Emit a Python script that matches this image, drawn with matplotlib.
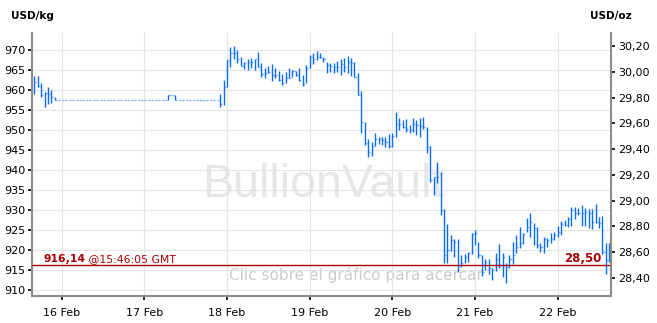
import pandas as pd
import matplotlib
matplotlib.use("Agg")
import matplotlib.pyplot as plt
import matplotlib.dates as mdates

# hourly bars in USD/kg, first bar at 15 Feb 16:00 GMT
start = "2013-02-15 16:00"

highs = [
    963.5, 963.5, 961.8, 959.6, 960.7, 960.0, 958.2,
    957.5, 957.5, 957.5, 957.5, 957.5, 957.5, 957.5, 957.5,
    957.5, 957.5, 957.5, 957.5, 957.5, 957.5, 957.5, 957.5,
    957.5, 957.5, 957.5, 957.5, 957.5, 957.5, 957.5, 957.5,
    957.5, 957.5, 957.5, 957.5, 957.5, 957.5, 957.5, 957.5,
    958.7, 958.7, 958.7,
    957.5, 957.5, 957.5, 957.5, 957.5, 957.5, 957.5, 957.5, 957.5, 957.5, 957.5, 957.5,
    959.0, 962.5, 967.5, 970.7, 971.0, 970.0, 968.3, 967.1, 967.8, 968.1,
    967.8, 969.4, 966.7, 965.6, 966.1, 966.4, 965.6, 964.8, 963.9, 964.6,
    965.4, 965.0, 964.8, 965.4, 963.8, 966.3, 968.8, 969.2, 969.7,
    969.2, 968.2, 967.1, 966.8, 966.8, 967.3, 967.7, 967.9, 968.5, 967.9,
    967.1, 964.2, 959.8, 952.1, 947.7, 947.1, 949.3, 948.2, 948.2, 948.2,
    948.9, 949.2, 954.6, 952.9, 952.5, 952.7, 951.3, 952.9, 952.5, 952.9,
    953.2, 950.7,
    946.0, 938.3, 942.1, 939.6, 930.2, 926.5, 923.8, 922.7, 922.7, 918.8,
    919.0, 919.6, 924.3, 925.0, 922.1, 918.8, 917.7, 917.7, 915.4, 919.2,
    921.5, 919.2, 916.7, 918.8, 922.1, 923.8, 925.8, 924.3, 927.9, 929.3,
    926.8, 925.7, 921.8, 923.3, 922.9, 924.3, 924.6, 926.0, 927.3, 927.5,
    928.3, 930.7, 930.7, 930.4, 931.3, 930.4, 930.2, 930.2, 931.5, 928.3,
    928.5, 921.8, 921.7,
]

lows = [
    959.0, 960.7, 958.3, 955.8, 956.4, 956.7, 957.5,
    957.5, 957.5, 957.5, 957.5, 957.5, 957.5, 957.5, 957.5,
    957.5, 957.5, 957.5, 957.5, 957.5, 957.5, 957.5, 957.5,
    957.5, 957.5, 957.5, 957.5, 957.5, 957.5, 957.5, 957.5,
    957.5, 957.5, 957.5, 957.5, 957.5, 957.5, 957.5, 957.5,
    957.5, 958.7, 957.5,
    957.5, 957.5, 957.5, 957.5, 957.5, 957.5, 957.5, 957.5, 957.5, 957.5, 957.5, 957.5,
    955.8, 956.3, 960.8, 965.8, 967.8, 966.7, 966.1, 965.3, 965.0, 965.4,
    965.0, 965.8, 963.3, 963.1, 964.2, 962.3, 962.9, 962.3, 961.3, 961.7,
    962.9, 963.3, 963.6, 962.3, 961.1, 961.7, 965.6, 966.6, 967.6,
    967.9, 967.1, 964.2, 964.6, 964.2, 964.6, 963.8, 964.6, 964.2, 963.5,
    963.3, 958.8, 949.2, 946.3, 943.2, 943.5, 946.0, 946.5, 946.3, 945.7,
    945.4, 945.7, 948.3, 950.0, 950.4, 949.6, 949.2, 949.6, 948.8, 948.3,
    950.2, 944.2,
    937.1, 933.8, 936.7, 928.8, 916.7, 916.7, 919.8, 918.3, 914.6, 915.8,
    916.7, 917.1, 919.0, 921.3, 917.9, 913.5, 915.0, 914.0, 912.5, 914.8,
    915.4, 913.3, 911.7, 915.4, 916.5, 919.2, 920.4, 921.5, 924.6, 923.2,
    921.3, 920.4, 919.6, 919.3, 920.8, 921.8, 922.5, 923.3, 923.8, 926.0,
    925.8, 926.0, 927.7, 928.8, 926.0, 926.0, 925.4, 925.2, 926.8, 925.4,
    919.0, 914.0, 917.1,
]

closes = [
    962.0, 961.0, 958.7, 959.2, 959.0, 958.2, 957.5,
    957.5, 957.5, 957.5, 957.5, 957.5, 957.5, 957.5, 957.5,
    957.5, 957.5, 957.5, 957.5, 957.5, 957.5, 957.5, 957.5,
    957.5, 957.5, 957.5, 957.5, 957.5, 957.5, 957.5, 957.5,
    957.5, 957.5, 957.5, 957.5, 957.5, 957.5, 957.5, 957.5,
    958.7, 958.7, 957.5,
    957.5, 957.5, 957.5, 957.5, 957.5, 957.5, 957.5, 957.5, 957.5, 957.5, 957.5, 957.5,
    956.5, 960.8, 967.5, 969.2, 969.2, 967.8, 966.1, 966.7, 967.1, 967.1,
    967.8, 965.8, 963.9, 964.2, 964.6, 963.8, 963.8, 962.5, 961.7, 962.9,
    963.1, 964.8, 963.8, 962.5, 961.4, 965.4, 968.3, 967.8, 968.3,
    968.2, 967.7, 966.3, 966.0, 965.8, 965.8, 966.5, 965.8, 967.1, 966.8,
    963.3, 958.8, 952.1, 946.7, 944.6, 946.0, 947.7, 947.7, 947.5, 947.1,
    946.0, 948.5, 951.5, 951.5, 950.7, 950.2, 950.0, 951.5, 951.3, 951.0,
    950.7, 945.8,
    937.5, 938.2, 938.2, 930.0, 918.8, 920.0, 922.5, 922.1, 916.3, 916.7,
    918.3, 919.2, 924.0, 924.2, 918.8, 914.6, 917.1, 915.4, 915.0, 917.7,
    916.3, 918.3, 915.8, 917.7, 918.8, 920.8, 921.7, 924.0, 925.8, 927.1,
    925.4, 921.3, 920.8, 922.7, 922.5, 922.7, 923.8, 924.6, 926.5, 926.3,
    927.7, 930.0, 929.3, 929.2, 929.2, 929.6, 929.2, 927.1, 927.1, 926.8,
    919.6, 917.5, 917.3,
]

last_kg = 916.14
last_oz = 28.50
last_time = "@15:46:05 GMT"

day_ticks = ["2013-02-16", "2013-02-17", "2013-02-18", "2013-02-19",
             "2013-02-20", "2013-02-21", "2013-02-22"]
day_labels = ["16 Feb", "17 Feb", "18 Feb", "19 Feb", "20 Feb", "21 Feb", "22 Feb"]
kg_ticks = [910, 915, 920, 925, 930, 935, 940, 945, 950, 955, 960, 965, 970]
oz_ticks = [28.4, 28.6, 28.8, 29.0, 29.2, 29.4, 29.6, 29.8, 30.0, 30.2]

KG_PER_OZ = 32.1507

BAR = "#0a6cff"
TICK = "#7aaeff"
RED = "#a80000"
SPINE = "#8c8c8c"
GRID = "#e4e4e4"

plt.rcParams["font.family"] = "DejaVu Sans"

times = pd.date_range(start, periods=len(highs), freq="h")
t = mdates.date2num(times.to_pydatetime())

fig = plt.figure(figsize=(6.57, 3.23), dpi=100)
ax = fig.add_axes([32 / 657, 27 / 323, 579 / 657, 263 / 323])

ax.vlines(t, lows, highs, color=BAR, lw=1.0, zorder=3)
ax.hlines(closes, t, t + 0.6 / 24, color=TICK, lw=1.0, zorder=2.5)

ax.axhline(last_kg, color=RED, lw=1.0, zorder=4)
lbl = ax.annotate("916,14", xy=(0.019, last_kg), xycoords=("axes fraction", "data"),
                  xytext=(0, 3), textcoords="offset pixels", color=RED,
                  fontsize=7.8, fontweight="bold", va="baseline", zorder=5)
ax.annotate(" " + last_time, xy=(1, 0), xycoords=lbl, va="bottom", color=RED,
            fontsize=7.8, zorder=5)
ax.annotate(f"{last_oz:.2f}".replace(".", ","), xy=(0.983, last_kg),
            xycoords=("axes fraction", "data"),
            xytext=(0, 3), textcoords="offset pixels", color=RED, ha="right",
            fontsize=8.5, fontweight="bold", va="baseline", zorder=5)

# watermark and hint text
ax.text(0.503, 0.376, "BullionVault", transform=ax.transAxes, ha="center",
        va="baseline", fontsize=33.5, family="Liberation Sans", color="#e6e6e6", zorder=0)
ax.text(0.340, 0.061, "Clic sobre el gráfico para acercar", transform=ax.transAxes,
        ha="left", va="baseline", fontsize=11, color="#cccccc", zorder=0)

ax.set_xlim(mdates.date2num(pd.Timestamp("2013-02-15 15:22")),
            mdates.date2num(pd.Timestamp("2013-02-22 15:29")))
ax.set_ylim(908.5, 974.25)

ax.set_xticks(mdates.date2num(pd.to_datetime(day_ticks).to_pydatetime()))
ax.set_xticklabels(day_labels)
ax.set_yticks(kg_ticks)
ax.set_yticklabels([str(v) for v in kg_ticks])

ax.grid(True, color=GRID, lw=0.8)
ax.set_axisbelow(True)

for s in ["top", "right"]:
    ax.spines[s].set_visible(False)
for s in ["left", "bottom"]:
    ax.spines[s].set_color(SPINE)
    ax.spines[s].set_linewidth(1.5)

ax.tick_params(axis="y", length=3, width=1.2, pad=1.5, labelsize=8, colors="black")
ax.tick_params(axis="x", length=3, width=1.2, pad=5.5, labelsize=8, colors="black")

ax2 = ax.twinx()
ax2.set_ylim(908.5 / KG_PER_OZ, 974.25 / KG_PER_OZ)
ax2.set_yticks(oz_ticks)
ax2.set_yticklabels([f"{v:.2f}".replace(".", ",") for v in oz_ticks])
for s in ["top", "left", "bottom"]:
    ax2.spines[s].set_visible(False)
ax2.spines["right"].set_color(SPINE)
ax2.spines["right"].set_linewidth(1.5)
ax2.tick_params(axis="y", length=3, width=1.2, pad=2, labelsize=8, colors="black")

fig.text(11 / 657, 1 - 19 / 323, "USD/kg", fontsize=7.5, fontweight="bold", va="baseline")
fig.text(590 / 657, 1 - 19 / 323, "USD/oz", fontsize=7.5, fontweight="bold", va="baseline")

fig.savefig("out.png", dpi=100, facecolor="white")
